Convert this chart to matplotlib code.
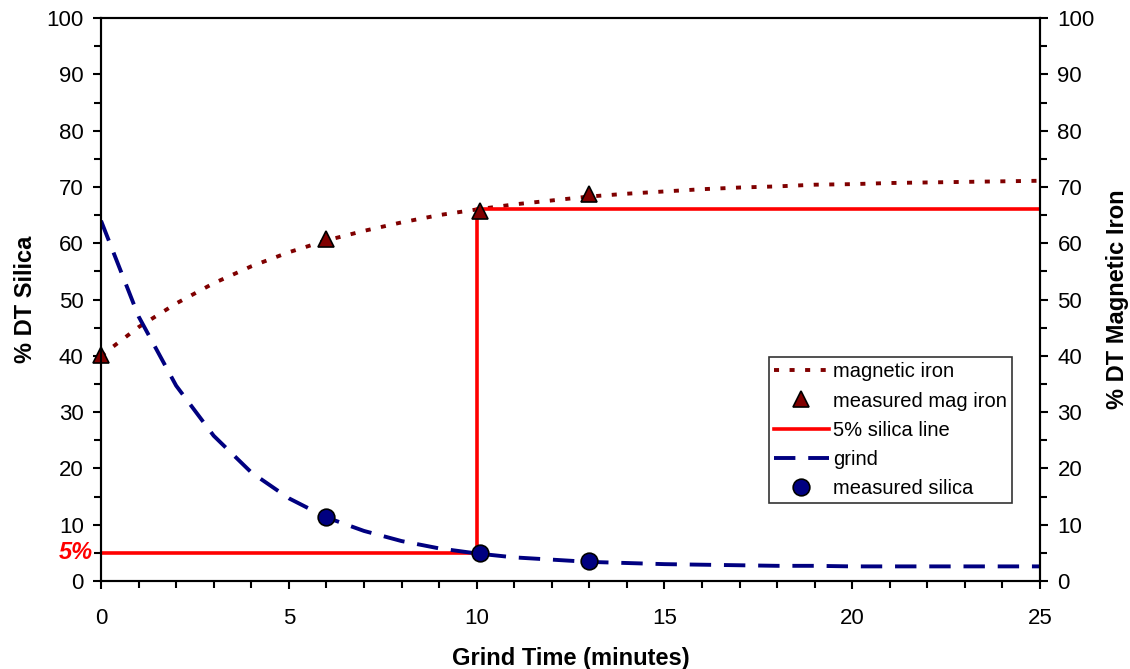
import matplotlib.pyplot as plt
from matplotlib.ticker import MultipleLocator

plt.rcParams['font.family'] = ['Liberation Sans', 'DejaVu Sans']

# fitted curves (minutes 0..25)
t_curve = list(range(26))
mag_curve = [40.0, 45.1, 49.3, 52.9, 55.9, 58.4, 60.5, 62.2, 63.7, 65.0, 66.0, 66.9, 67.6,
             68.3, 68.8, 69.2, 69.6, 69.9, 70.1, 70.4, 70.5, 70.7, 70.8, 70.9, 71.0, 71.1]
grind_curve = [64.0, 47.0, 34.7, 25.8, 19.3, 14.7, 11.3, 8.9, 7.1, 5.8, 4.9, 4.2, 3.8,
               3.4, 3.2, 3.0, 2.9, 2.8, 2.7, 2.7, 2.6, 2.6, 2.6, 2.6, 2.6, 2.6]

# measured points
mag_t = [0, 6, 10.1, 13]
mag_meas = [40.2, 60.7, 65.7, 68.7]
sil_t = [6, 10.1, 13]
sil_meas = [11.3, 5.0, 3.5]

# 5% silica line
line_t = [0, 10, 10, 25]
line_y = [5, 5, 66, 66]

fig = plt.figure(figsize=(11.3, 6.69), dpi=100)
ax = fig.add_axes([0.0894, 0.1315, 0.831, 0.8415])

ax.plot(t_curve, mag_curve, color='#800000', lw=2.8, dashes=(1.3, 2.7), label='magnetic iron')
ax.plot(mag_t, mag_meas, ls='none', marker='^', ms=11, mfc='#800000', mec='black', mew=1.2,
        clip_on=False, zorder=5, label='measured mag iron')
ax.plot(line_t, line_y, color='#ff0000', lw=2.6, label='5% silica line')
ax.plot(t_curve, grind_curve, color='#000080', lw=2.8, dashes=(5.5, 3.3), label='grind')
ax.plot(sil_t, sil_meas, ls='none', marker='o', ms=12, mfc='#000080', mec='black', mew=1.2,
        clip_on=False, zorder=5, label='measured silica')

ax.set_xlim(0, 25)
ax.set_ylim(0, 100)
ax.xaxis.set_major_locator(MultipleLocator(5))
ax.xaxis.set_minor_locator(MultipleLocator(1))
ax.yaxis.set_major_locator(MultipleLocator(10))
ax.yaxis.set_minor_locator(MultipleLocator(5))
ax.tick_params(which='major', length=5.5, width=1.5, labelsize=16, pad=7)
ax.tick_params(which='minor', length=5, width=1.5)
ax.tick_params(axis='x', which='major', pad=14)
for s in ax.spines.values():
    s.set_linewidth(1.5)

ax2 = ax.twinx()
ax2.set_ylim(0, 100)
ax2.yaxis.set_major_locator(MultipleLocator(10))
ax2.yaxis.set_minor_locator(MultipleLocator(5))
ax2.tick_params(which='major', length=5.5, width=1.5, labelsize=16, pad=7)
ax2.tick_params(which='minor', length=5, width=1.5)
for s in ax2.spines.values():
    s.set_linewidth(1.5)

ax.set_xlabel('Grind Time (minutes)', fontsize=17, fontweight='bold', labelpad=13)
ax.set_ylabel('% DT Silica', fontsize=17, fontweight='bold', labelpad=7)
ax2.set_ylabel('% DT Magnetic Iron', fontsize=17, fontweight='bold', labelpad=8)

ax.text(-0.009, 5, '5%', transform=ax.get_yaxis_transform(), ha='right', va='center',
        color='#ff0000', fontsize=17, fontweight='bold', fontstyle='italic')

handles, labels = ax.get_legend_handles_labels()
leg = ax2.legend(handles, labels, loc='lower left', bbox_to_anchor=(0.711, 0.139),
                 fontsize=14.5, frameon=True, fancybox=False, edgecolor='black',
                 handlelength=2.75, borderpad=0.25, labelspacing=0.5, handletextpad=0.2,
                 borderaxespad=0)
leg.get_frame().set_linewidth(1.2)

fig.savefig('out.png', dpi=100)
